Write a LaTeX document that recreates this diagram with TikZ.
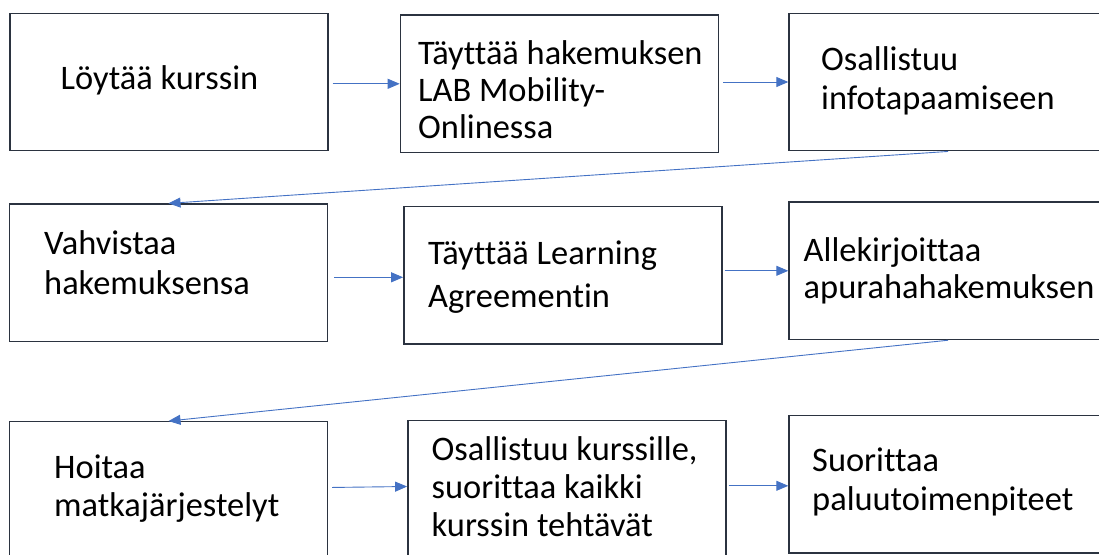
\documentclass[tikz,border=0pt]{standalone}
\usepackage{fontspec}
\setmainfont[Ligatures=NoCommon]{Carlito}
\usetikzlibrary{arrows.meta}
\definecolor{boxline}{RGB}{43,51,64}
\definecolor{arrowblue}{RGB}{68,114,196}
\newcommand\mlines[2]{\vtop{\baselineskip=#1pt\lineskiplimit=-1000pt\lineskip=0pt #2}}
\tikzset{
  stepbox/.style={draw=boxline, line width=1.4pt, minimum width=318pt, minimum height=137.5pt, inner sep=0pt, fill=white},
  txt/.style={anchor=base west, inner sep=0pt, font=\fontsize{34.4pt}{38pt}\selectfont, text=black},
  flow/.style={draw=arrowblue, line width=0.9pt, -{Triangle[length=12pt,width=10pt]}},
}
\begin{document}
\begin{tikzpicture}[x=1pt,y=-1pt]
\useasboundingbox (0,0) rectangle (1099,554);
\begin{scope}
\clip (0,0) rectangle (1099,554);
% boxes
\node[stepbox] (b1) at (168.8,82) {};
\node[stepbox] (b2) at (559.4,83.8) {};
\node[stepbox] (b3) at (948,82) {};
\node[stepbox] (b4) at (168.5,272.8) {};
\node[stepbox] (b5) at (562.8,275.3) {};
\node[stepbox] (b6) at (948,270.8) {};
\node[stepbox] (b7) at (168.5,490.5) {};
\node[stepbox] (b8) at (566.8,489.5) {};
\node[stepbox] (b9) at (948,484.3) {};
% texts
\node[txt] (t1) at (60.5,89) {Löytää kurssin};
\node[txt] (t2) at (418,64) {\mlines{37.2}{\hbox{Täyttää hakemuksen}\hbox{LAB Mobility-}\hbox{Onlinessa}}};
\node[txt] (t3) at (821,70.7) {\mlines{39}{\hbox{Osallistuu}\hbox{infotapaamiseen}}};
\node[txt] (t4) at (44,254) {\mlines{40}{\hbox{Vahvistaa}\hbox{hakemuksensa}}};
\node[txt] (t5) at (428,264) {\mlines{43.7}{\hbox{Täyttää Learning}\hbox{Agreementin}}};
\node[txt] (t6) at (803.5,261.7) {\mlines{36.5}{\hbox{Allekirjoittaa}\hbox{apurahahakemuksen}}};
\node[txt] (t7) at (54,478) {\mlines{38.7}{\hbox{Hoitaa}\hbox{matkajärjestelyt}}};
\node[txt] (t8) at (431.5,460) {\mlines{38.3}{\hbox{Osallistuu kurssille,}\hbox{suorittaa kaikki}\hbox{kurssin tehtävät}}};
\node[txt] (t9) at (812,471.7) {\mlines{38.3}{\hbox{Suorittaa}\hbox{paluutoimenpiteet}}};
% connectors
\draw[flow, shorten <=4pt] (b1.east |- b2.west) -- (b2.west);
\draw[flow, shorten <=4pt] (b2.east |- b3.west) -- (b3.west);
\draw[flow] (b3.south) -- (b4.north);
\draw[flow, shorten <=6pt] ([yshift=-2pt]b4.east |- b5.west) -- ([yshift=-2pt]b5.west);
\draw[flow, shorten <=2pt] (b5.east |- b6.west) -- (b6.west);
\draw[flow, shorten <=4pt] ([yshift=3pt]b7.east) -- ([yshift=3pt]b8.west);
\draw[flow, shorten <=2pt] ([yshift=-1.5pt]b8.east |- b9.west) -- ([yshift=-1.5pt]b9.west);
\draw[flow] (b6.south) -- (b7.north);
\end{scope}
\end{tikzpicture}
\end{document}
